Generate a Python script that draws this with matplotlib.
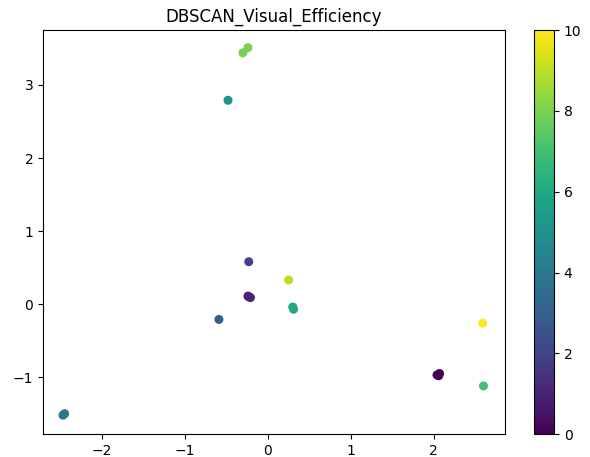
import matplotlib.pyplot as plt

# puntos, con su etiqueta de cluster
xs = [2.04, 2.07, 2.06,
      -0.24, -0.21, -0.23,
      -0.23,
      -0.59,
      -2.47, -2.45,
      -0.48,
      0.30, 0.31,
      2.60,
      -0.24, -0.30,
      0.25,
      2.59]
ys = [-0.97, -0.95, -0.98,
      0.11, 0.09, 0.10,
      0.58,
      -0.21,
      -1.52, -1.50,
      2.79,
      -0.04, -0.07,
      -1.12,
      3.51, 3.44,
      0.33,
      -0.26]
labels = [0, 0, 0,
          1, 1, 1,
          2,
          3,
          4, 4,
          5,
          6, 6,
          7,
          8, 8,
          9,
          10]

fig = plt.figure(figsize=(5.9, 4.57), dpi=100)
ax = fig.add_axes([0.073, 0.05, 0.783, 0.884])
sc = ax.scatter(xs, ys, c=labels, cmap='viridis', s=30)
ax.set_xlim(-2.71, 2.86)
ax.set_ylim(-1.78, 3.75)
ax.set_title('DBSCAN_Visual_Efficiency')
cax = fig.add_axes([0.905, 0.05, 0.034, 0.884])
fig.colorbar(sc, cax=cax)

fig.savefig('out.png')
